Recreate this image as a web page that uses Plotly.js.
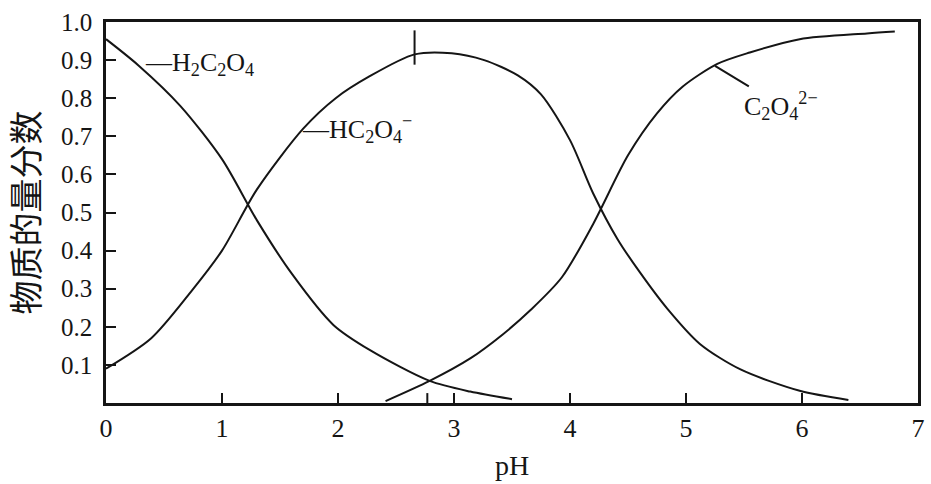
<!DOCTYPE html>
<html>
<head>
<meta charset="utf-8">
<script src="https://cdn.plot.ly/plotly-3.0.1.min.js"></script>
<style>
html,body{margin:0;padding:0;background:#fff;}
#chart{width:931px;height:484px;}
</style>
</head>
<body>
<div id="chart"></div>
<script>
// pH values and mole fractions
const pH_H2C2O4 = [0, 0.28, 0.64, 1.0, 1.3, 1.6, 1.96, 2.28, 2.79, 3.14, 3.5];
const frac_H2C2O4 = [0.955, 0.886, 0.78, 0.64, 0.48, 0.34, 0.205, 0.138, 0.058, 0.03, 0.01];

const pH_HC2O4 = [0, 0.39, 0.74, 1.0, 1.3, 1.7, 1.98, 2.27, 2.66, 2.98, 3.26, 3.55, 3.75, 4.0, 4.2, 4.41, 4.6, 4.84, 5.12, 5.47, 5.98, 6.4];
const frac_HC2O4 = [0.09, 0.17, 0.295, 0.40, 0.56, 0.72, 0.80, 0.857, 0.915, 0.918, 0.90, 0.86, 0.81, 0.69, 0.55, 0.43, 0.344, 0.247, 0.155, 0.088, 0.032, 0.008];

const pH_C2O4 = [2.41, 2.79, 3.14, 3.42, 3.66, 3.93, 4.2, 4.5, 4.75, 4.97, 5.27, 5.55, 5.98, 6.56, 6.8];
const frac_C2O4 = [0.005, 0.058, 0.117, 0.18, 0.244, 0.33, 0.47, 0.65, 0.76, 0.83, 0.89, 0.92, 0.955, 0.97, 0.975];

const xTickVals = [0, 1, 2, 3, 4, 5, 6, 7];
const xTickText = ['0', '1', '2', '3', '4', '5', '6', '7'];
const yTickVals = [0.1, 0.2, 0.3, 0.4, 0.5, 0.6, 0.7, 0.8, 0.9, 1.0];
const yTickText = ['0.1', '0.2', '0.3', '0.4', '0.5', '0.6', '0.7', '0.8', '0.9', '1.0'];

const ink = '#151515';
const serif = 'Liberation Serif, Times New Roman, serif';

function curve(x, y) {
  return {
    x: x, y: y, type: 'scatter', mode: 'lines',
    line: {color: ink, width: 2, shape: 'spline', smoothing: 0.8},
    hoverinfo: 'skip', showlegend: false
  };
}

const data = [
  curve(pH_H2C2O4, frac_H2C2O4),
  curve(pH_HC2O4, frac_HC2O4),
  curve(pH_C2O4, frac_C2O4)
];

// peak of HC2O4- (small vertical mark) and crossing tick
let iPeak = 0;
frac_HC2O4.forEach((v, i) => { if (v > frac_HC2O4[iPeak]) iPeak = i; });
const crossPH = pH_C2O4[1];
// point on C2O4^2- curve for its label leader
const iLab = 10;

const layout = {
  width: 931, height: 484,
  margin: {l: 106, r: 13, t: 22, b: 81},
  paper_bgcolor: '#fff', plot_bgcolor: '#fff',
  showlegend: false,
  xaxis: {
    range: [0, 7], automargin: false,
    showline: true, linewidth: 2.5, linecolor: ink, mirror: true,
    showgrid: false, zeroline: false,
    ticks: 'inside', ticklen: 10, tickwidth: 2, tickcolor: ink,
    tickvals: xTickVals, ticktext: xTickText,
    tickfont: {family: serif, size: 26, color: ink},
    title: {text: 'pH', font: {family: serif, size: 28, color: ink}, standoff: 14}
  },
  yaxis: {
    range: [0, 1], automargin: false,
    showline: true, linewidth: 2.5, linecolor: ink, mirror: true,
    showgrid: false, zeroline: false,
    ticks: 'inside', ticklen: 10, tickwidth: 2, tickcolor: ink,
    tickvals: yTickVals, ticktext: yTickText,
    tickfont: {family: serif, size: 25, color: ink},
    ticklabelstandoff: 6,
    title: {text: '物质的量分数', font: {family: 'Noto Sans CJK SC', size: 34, color: ink}, standoff: 16}
  },
  shapes: [
    {type: 'line', xref: 'x', yref: 'y', x0: pH_HC2O4[iPeak] - 0.32, x1: pH_HC2O4[iPeak] - 0.32,
     y0: frac_HC2O4[iPeak] - 0.03, y1: frac_HC2O4[iPeak] + 0.06, line: {color: ink, width: 2}},
    {type: 'line', xref: 'x', yref: 'y', x0: crossPH - 0.02, x1: crossPH - 0.02,
     y0: 0, y1: 0.026, line: {color: ink, width: 2}}
  ],
  annotations: [
    {xref: 'x', yref: 'y', x: pH_H2C2O4[1] + 0.04, y: frac_H2C2O4[1] + 0.005, xanchor: 'left', yanchor: 'middle',
     text: '—H<sub>2</sub>C<sub>2</sub>O<sub>4</sub>', showarrow: false,
     font: {family: serif, size: 26, color: ink}},
    {xref: 'x', yref: 'y', x: pH_HC2O4[5] - 0.03, y: frac_HC2O4[5], xanchor: 'left', yanchor: 'middle',
     text: '—HC<sub>2</sub>O<sub>4</sub><sup>−</sup>', showarrow: false,
     font: {family: serif, size: 26, color: ink}},
    {xref: 'x', yref: 'y', x: pH_C2O4[iLab] - 0.02, y: frac_C2O4[iLab] - 0.005,
     text: 'C<sub>2</sub>O<sub>4</sub><sup>2−</sup>', showarrow: true, arrowhead: 0, arrowwidth: 2, arrowcolor: ink,
     ax: 66, ay: 40, font: {family: serif, size: 26, color: ink}}
  ]
};

Plotly.newPlot('chart', data, layout, {displayModeBar: false});
</script>
</body>
</html>
